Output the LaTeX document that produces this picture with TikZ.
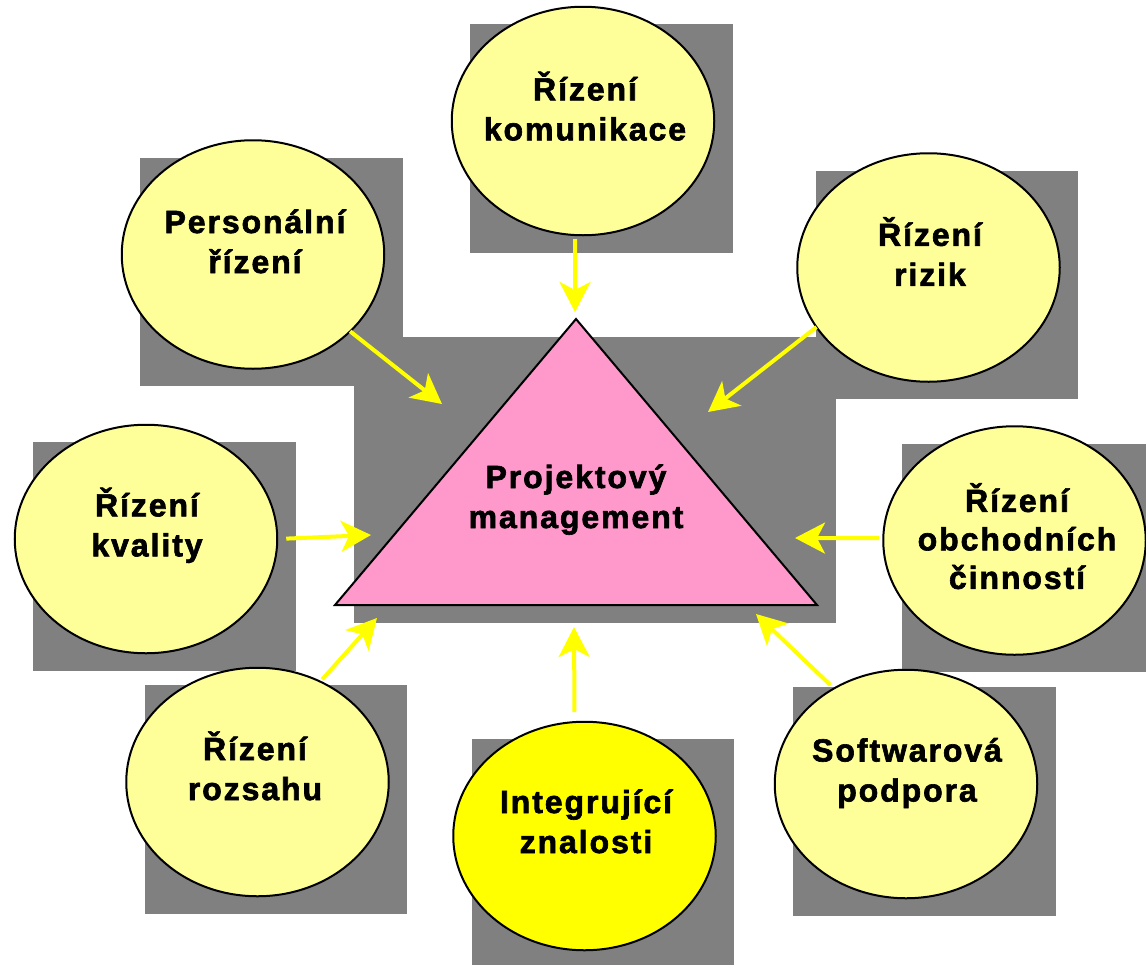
\documentclass[tikz,border=0pt]{standalone}
\usepackage{fontspec}
\newfontfamily\lblfont[LetterSpace=6,FakeBold=2]{Liberation Sans}
\usetikzlibrary{arrows.meta,calc,shapes.geometric}
\pgfdeclarelayer{shadowlayer}
\pgfsetlayers{shadowlayer,main}
\definecolor{shadowgrey}{HTML}{808080}
\definecolor{paleyellow}{HTML}{FFFF99}
\definecolor{brightyellow}{HTML}{FFFF00}
\definecolor{pmpink}{HTML}{FF99CC}

\begin{document}
\begin{tikzpicture}[x=1pt,y=-1pt,
  topic/.style={ellipse, draw=black, line width=2pt, fill=paleyellow,
    minimum width=262.5pt, minimum height=228.5pt, inner sep=0pt, outer sep=0pt},
  keytopic/.style={topic, fill=brightyellow},
  lbl/.style={align=center, inner sep=0pt,
    font=\lblfont\bfseries\fontsize{32}{40}\selectfont},
  lblthree/.style={lbl, font=\lblfont\bfseries\fontsize{32}{38.5}\selectfont},
  feed/.style={draw=brightyellow, line width=4pt,
    -{Stealth[length=30pt,width=31pt,inset=8pt]}},
  drop/.style={fill=shadowgrey}
]
\useasboundingbox (0,0) rectangle (1146,964);

% central triangle
\coordinate (apex) at (576,319);
\coordinate (bl) at (335,605);
\coordinate (br) at (817,605);
\draw[fill=pmpink, line width=2pt] (apex) -- (br) -- (bl) -- cycle;
\node[lbl] (pm) at (576,500) {\strut Projektový\\\strut management};

% knowledge areas around it
\node[topic] (pers) at (253,254.5) {};
\node[topic] (kom)  at (583,121) {};
\node[topic] (riz)  at (928.5,267.5) {};
\node[topic] (kva)  at (146,539) {};
\node[topic] (obc)  at (1014.5,540.5) {};
\node[topic] (roz)  at (257.5,782) {};
\node[keytopic] (int) at (584.5,836) {};
\node[topic] (sw)   at (906,784) {};

\node[lbl] (pers-t) at (255,245) {\strut Personální\\\strut řízení};
\node[lbl] (kom-t)  at (585,112) {\strut Řízení\\\strut komunikace};
\node[lbl] (riz-t)  at (930,257.5) {\strut Řízení\\\strut rizik};
\node[lbl] (kva-t)  at (147,528) {\strut Řízení\\\strut kvality};
\node[lblthree] (obc-t) at (1017,541.8) {\strut Řízení\\\strut obchodních\\\strut činností};
\node[lbl] (roz-t)  at (255,771.7) {\strut Řízení\\\strut rozsahu};
\node[lbl] (int-t)  at (586,825) {\strut Integrující\\\strut znalosti};
\node[lbl] (sw-t)   at (907,773.5) {\strut Softwarová\\\strut podpora};

% offset grey boxes behind every shape
\begin{pgfonlayer}{shadowlayer}
  \foreach \n in {pers,kom,riz,kva,obc,roz,int,sw}
    \fill[drop] ($(\n.west|-\n.north)+(18.5,17.5)$) rectangle ($(\n.east|-\n.south)+(18.5,17.5)$);
  \fill[drop] ($(bl|-apex)+(18.5,17.5)$) rectangle ($(br)+(18.5,17.5)$);
\end{pgfonlayer}

% arrow tips near the triangle
\coordinate (tP) at (442,404);
\coordinate (tK) at (575,312);
\coordinate (tR) at (708,412);
\coordinate (tQ) at (371,535);
\coordinate (tO) at (795,538);
\coordinate (tZ) at (377,618);
\coordinate (tI) at (574,627);
\coordinate (tS) at (756,614);

\draw[feed] (pers) -- (tP);
\draw[feed, shorten <=4pt] (kom.266) -- (tK);
\draw[feed] (riz.208.5) -- (tR);
\draw[feed, shorten <=9pt] (kva.east) -- (tQ);
\draw[feed, shorten <=4.5pt] (obc.179) -- (tO);
\draw[feed, shorten <=3pt] (roz.58) -- (tZ);
\draw[feed, shorten <=10pt] (int.95.3) -- (tI);
\draw[feed, shorten <=5pt] (sw.127.2) -- (tS);
\end{tikzpicture}
\end{document}
